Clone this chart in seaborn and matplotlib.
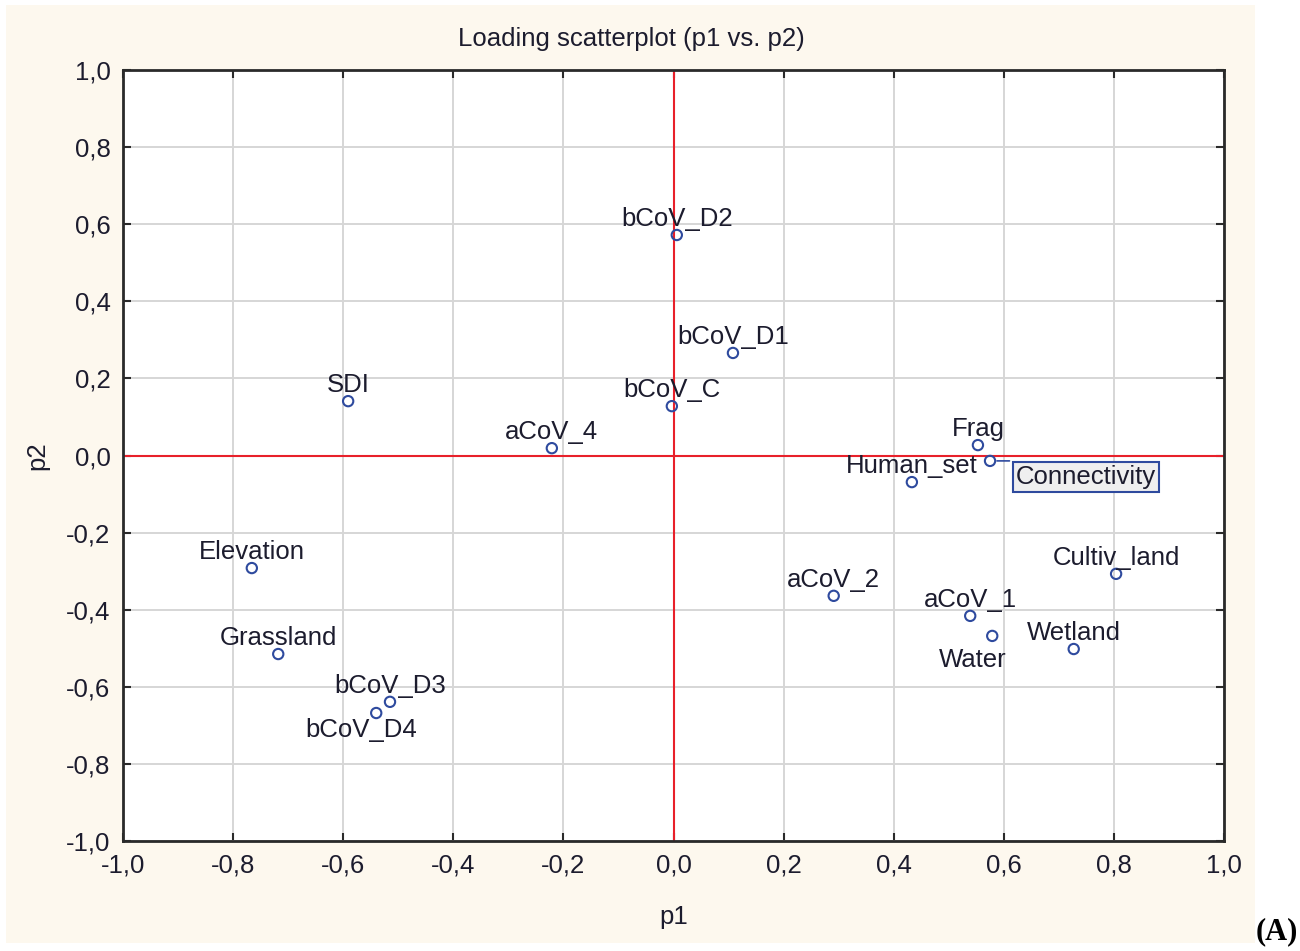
import matplotlib
matplotlib.use("Agg")
import matplotlib.pyplot as plt
from matplotlib.patches import Rectangle
import seaborn as sns
import pandas as pd
import numpy as np

# ---- data ----
variables = ["bCoV_D2", "bCoV_D1", "bCoV_C", "SDI", "aCoV_4", "Frag", "Human_set",
             "Connectivity", "Elevation", "Grassland", "bCoV_D3", "bCoV_D4",
             "aCoV_2", "aCoV_1", "Water", "Wetland", "Cultiv_land"]
p1 = [0.006, 0.108, -0.003, -0.591, -0.221, 0.553, 0.433,
      0.575, -0.766, -0.718, -0.515, -0.540,
      0.291, 0.539, 0.579, 0.727, 0.804]
p2 = [0.572, 0.266, 0.128, 0.141, 0.019, 0.027, -0.069,
      -0.014, -0.292, -0.515, -0.639, -0.668,
      -0.364, -0.416, -0.468, -0.502, -0.307]
tick_values = [-1.0, -0.8, -0.6, -0.4, -0.2, 0.0, 0.2, 0.4, 0.6, 0.8, 1.0]
tick_labels = ["-1,0", "-0,8", "-0,6", "-0,4", "-0,2", "0,0", "0,2", "0,4", "0,6", "0,8", "1,0"]

df = pd.DataFrame({"variable": variables, "p1": p1, "p2": p2})

# ---- style ----
sns.set_theme(style="white")
plt.rcParams["font.family"] = ["Liberation Sans", "DejaVu Sans"]

TXT = "#1c1c2e"
BLUE = "#2e4a9e"
FS = 18.5

fig = plt.figure(figsize=(13, 9.51), dpi=100, facecolor="white")
W, H = 1300, 951
# cream background panel
fig.patches.append(Rectangle((6 / W, 1 - 943 / H), (1255 - 6) / W, (943 - 5) / H,
                             transform=fig.transFigure, facecolor="#fdf8ee",
                             edgecolor="none", zorder=-10))

ax = fig.add_axes([123 / W, 1 - 841 / H, (1224 - 123) / W, (841 - 70) / H])
ax.set_facecolor("white")

ax.set_xlim(-1, 1)
ax.set_ylim(-1, 1)
ax.set_xticks(tick_values)
ax.set_xticklabels(tick_labels)
ax.set_yticks(tick_values)
ax.set_yticklabels(tick_labels)
ax.grid(True, color="#d6d6d6", linewidth=1.4)
ax.set_axisbelow(True)

ax.axvline(0, color="#e8202a", linewidth=1.5, zorder=2)
ax.axhline(0, color="#e8202a", linewidth=1.5, zorder=2)

sns.scatterplot(data=df, x="p1", y="p2", ax=ax, marker="o", s=55,
                facecolor="none", edgecolor=BLUE, linewidth=1.5, zorder=4,
                legend=False)

for sp in ax.spines.values():
    sp.set_color("#2a2a2a")
    sp.set_linewidth(2)

ax.tick_params(axis="both", which="both", direction="in", length=6, width=1.5,
               color="#2a2a2a", labelsize=FS, labelcolor=TXT,
               top=True, right=True, bottom=True, left=True,
               labeltop=False, labelright=False, pad=9)

ax.set_xlabel("p1", fontsize=FS, color=TXT, labelpad=20)
ax.set_ylabel("p2", fontsize=FS, color=TXT, labelpad=12)
fig.text(631 / W, 1 - 39 / H, "Loading scatterplot (p1 vs. p2)", ha="center",
         va="center", fontsize=FS, color=TXT)

# label placement (offsets in points)
offsets = {"bCoV_D4": (-11, -12), "Water": (-14, -17)}
for v, x, y in zip(variables, p1, p2):
    if v == "Connectivity":
        ax.annotate(v, (x, y), xytext=(69, -11.5), textcoords="offset points",
                    ha="center", va="center", fontsize=FS, color=TXT, zorder=5,
                    bbox=dict(boxstyle="square,pad=0.12", facecolor="#efefef",
                              edgecolor=BLUE, linewidth=1.5))
        ax.annotate("", (x, y), xytext=(14, 0), textcoords="offset points",
                    arrowprops=dict(arrowstyle="-", color=BLUE, lw=1.2,
                                    shrinkA=0, shrinkB=5), zorder=5)
        continue
    dx, dy = offsets.get(v, (0, 11.5))
    ax.annotate(v, (x, y), xytext=(dx, dy), textcoords="offset points",
                ha="center", va="center", fontsize=FS, color=TXT, zorder=5)

fig.text(1277 / W, 1 - 932 / H, "(A)", ha="center", va="center", fontsize=22,
         fontweight="bold", family=["Liberation Serif", "DejaVu Serif"], color="black")

fig.savefig("out.png", dpi=100, facecolor="white")
